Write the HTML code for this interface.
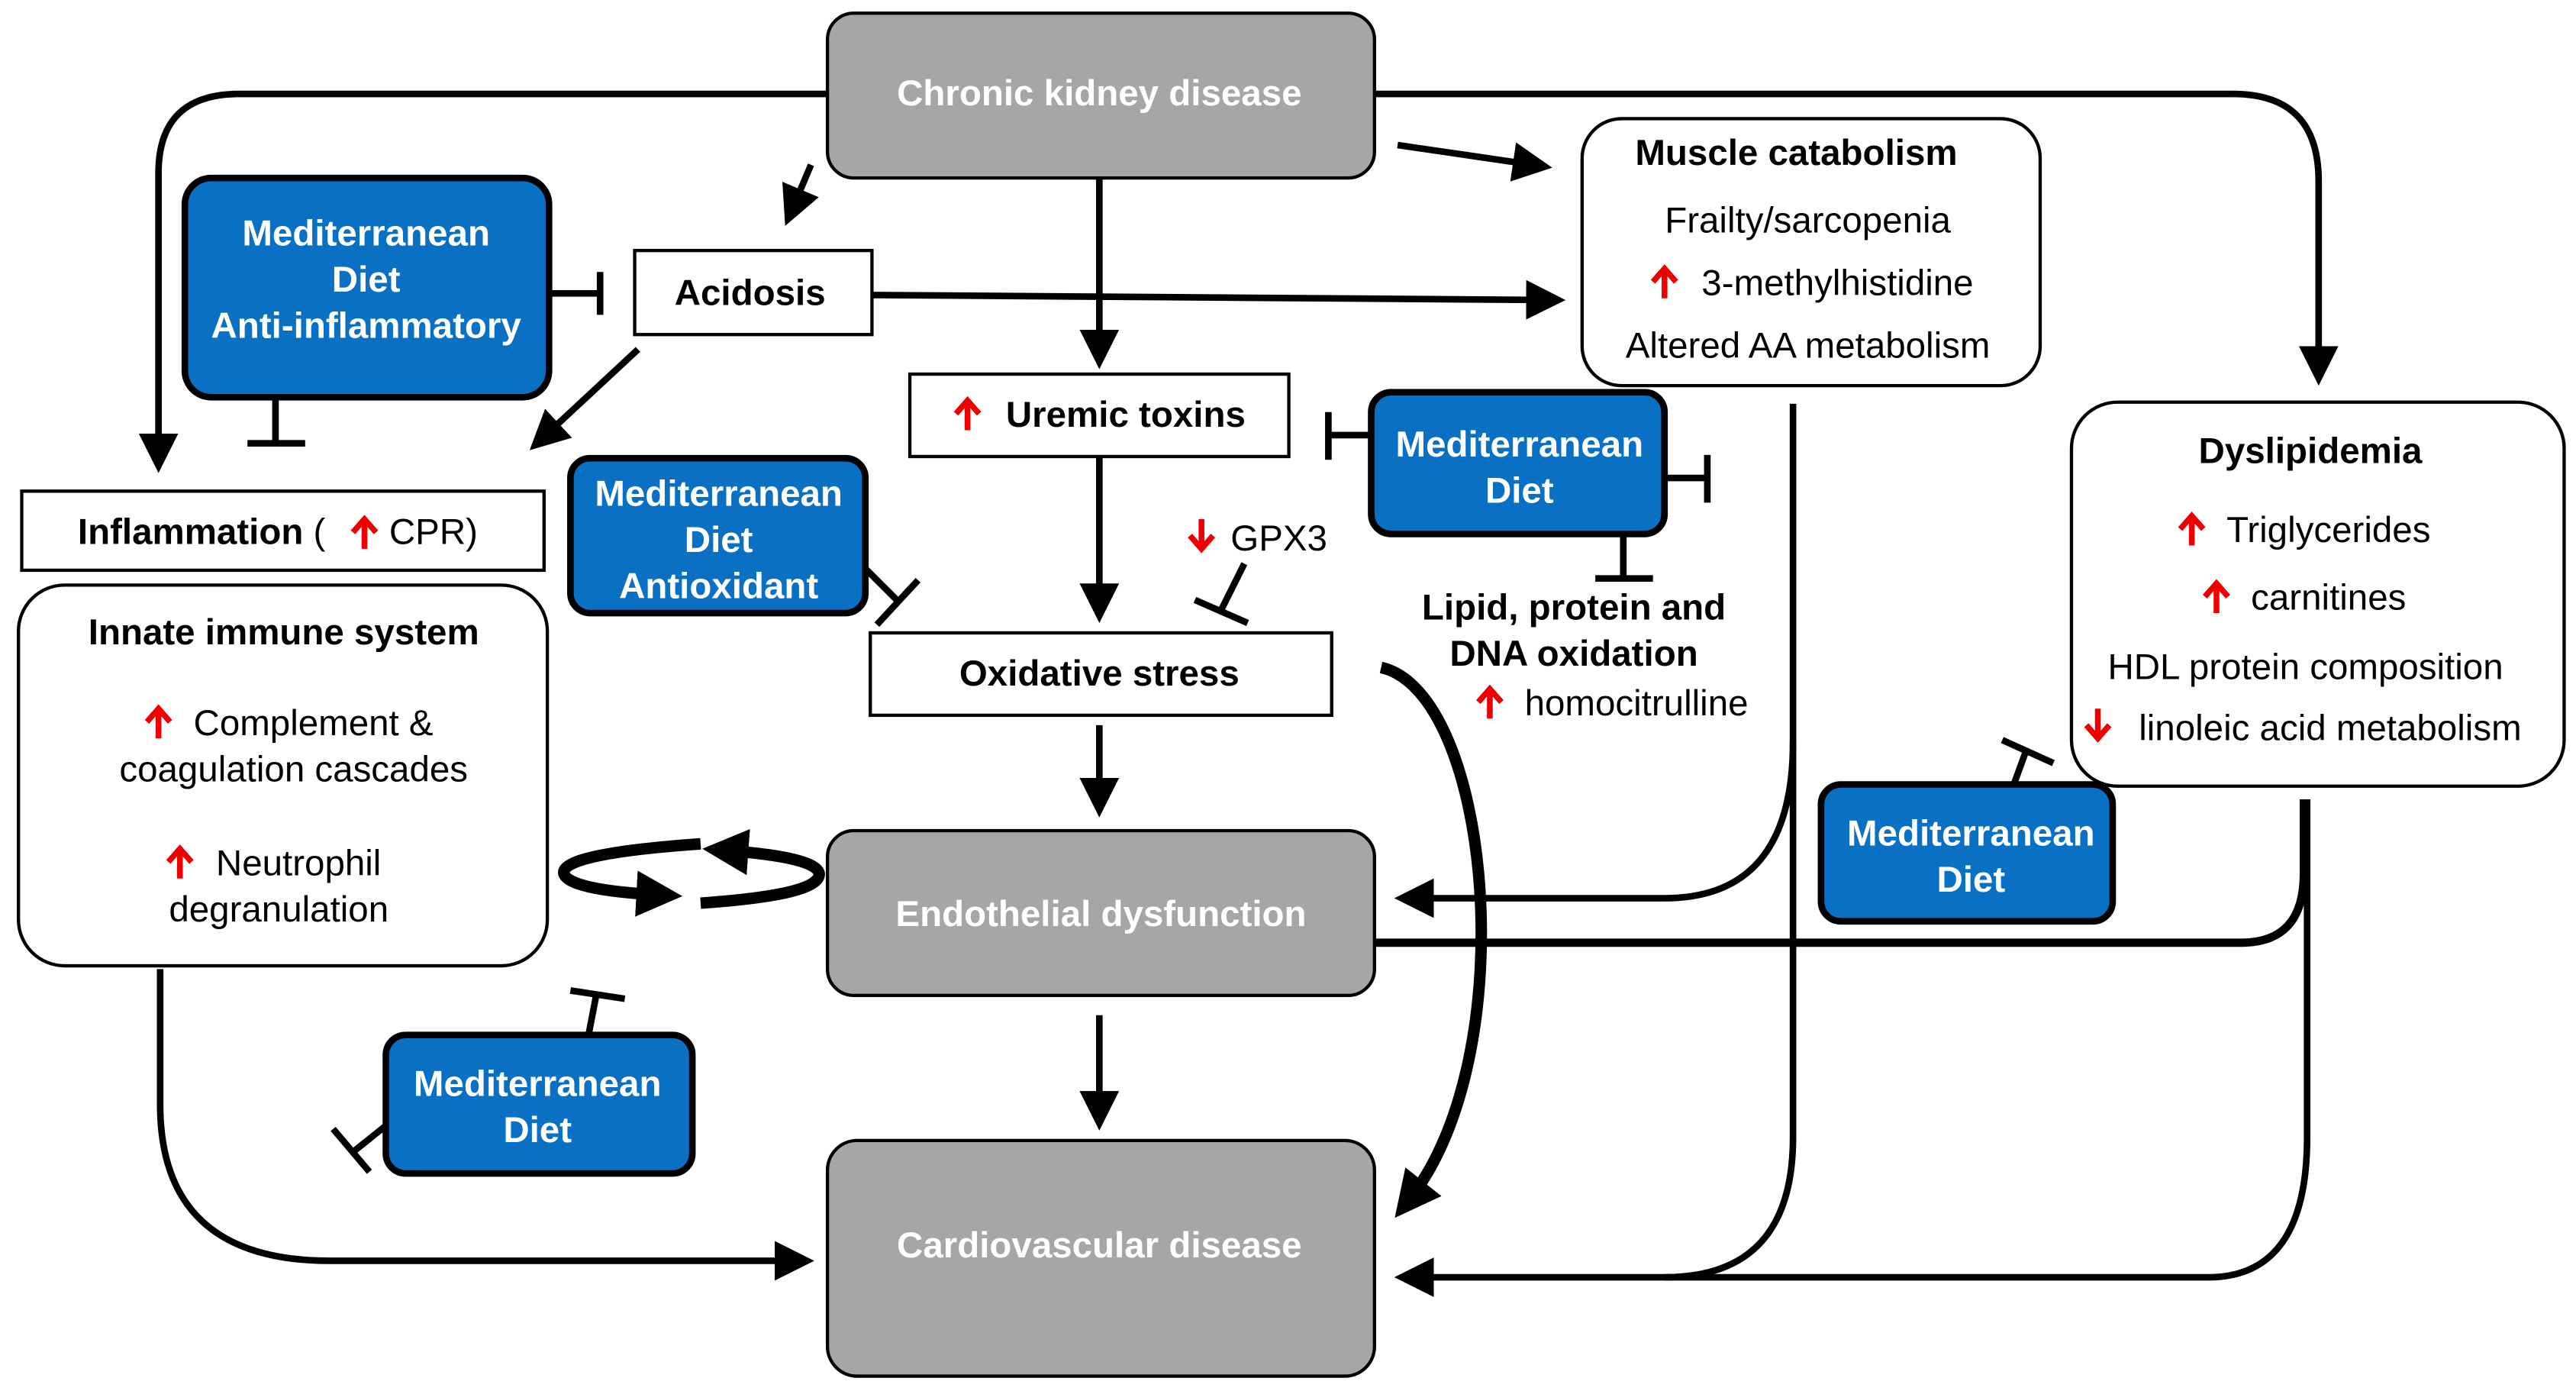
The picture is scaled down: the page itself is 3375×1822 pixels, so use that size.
<!DOCTYPE html>
<html><head><meta charset="utf-8"><style>
html,body{margin:0;padding:0;background:#fff;}
svg{display:block;}
text{font-family:"Liberation Sans",Arial,sans-serif;}
.b{font-weight:bold;}
</style></head><body>
<svg width="3375" height="1822" viewBox="0 0 1563 844" xmlns="http://www.w3.org/2000/svg">
<defs>
<marker id="a" markerWidth="6" markerHeight="6" refX="3" refY="3" orient="auto" markerUnits="strokeWidth" viewBox="0 0 6 6"><path d="M0,0 L6,3 L0,6 z" fill="#000"/></marker>
<marker id="a2" markerWidth="4" markerHeight="4" refX="2" refY="2" orient="auto" markerUnits="strokeWidth" viewBox="0 0 4 4"><path d="M0,0 L4,2 L0,4 z" fill="#000"/></marker>
</defs>
<g fill="none" stroke="#000" stroke-width="4">
<path d="M502,57 H145 Q96,57 96,105 V275" marker-end="url(#a)"/>
<path d="M834,57 H1355 Q1407,57 1407,110 V222" marker-end="url(#a)"/>
<path d="M848,88 L930,100" marker-end="url(#a)"/>
<path d="M492,100 L481,126" marker-end="url(#a)"/>
<path d="M667,108 V212" marker-end="url(#a)"/>
<path d="M529,179 L938,182" marker-end="url(#a)"/>
<path d="M387,212 L330,265" marker-end="url(#a)"/>
<path d="M667,277 V366" marker-end="url(#a)"/>
<path d="M667,440 V484" marker-end="url(#a)"/>
<path d="M667,616 V674" marker-end="url(#a)"/>
<path d="M1088,245 V690 Q1088,775 1010,775"/>
<path d="M1088,450 Q1088,545 1010,545 H858" marker-end="url(#a)"/>
<path d="M834,572 H1360 Q1398,572 1398,530 V485" stroke-width="5"/>
<path d="M1400,485 V690 Q1400,775 1340,775 H858" marker-end="url(#a)"/>
<path d="M97,588 V670 Q97,765 200,765 H482" marker-end="url(#a)"/>
<path d="M838,405 C905,420 925,640 855,728" stroke-width="7" marker-end="url(#a2)"/>
<path d="M425,512 Q340,518 342,530 Q345,540 400,543" stroke-width="7" marker-end="url(#a2)"/>
<path d="M425,548 Q498,543 497,530 Q495,520 440,516" stroke-width="7" marker-end="url(#a2)"/>
<path d="M333,178 H363 M364,165 V191"/>
<path d="M167,241 V268 M150,269 H185"/>
<path d="M832,264 H807 M806,250 V279"/>
<path d="M1010,290 H1035 M1036,276 V305"/>
<path d="M985,324 V350 M968,351 H1003"/>
<path d="M525,345 L545,365 M532,379 L557,352"/>
<path d="M755,342 L741,370 M725,364 L757,378"/>
<path d="M357,628 L362,602 M346,601 L379,606"/>
<path d="M234,683 L214,699 M202,685 L224,711"/>
<path d="M1222,476 L1230,454 M1215,449 L1246,463"/>
</g>
<g stroke="#000">
<rect x="502" y="8" width="332" height="100" rx="16" fill="#a6a6a6" stroke-width="2"/>
<rect x="502" y="504" width="332" height="100" rx="16" fill="#a6a6a6" stroke-width="2"/>
<rect x="502" y="692" width="332" height="143" rx="18" fill="#a6a6a6" stroke-width="2"/>
<rect x="960" y="72" width="278" height="162" rx="24" fill="#fff" stroke-width="2"/>
<rect x="1257" y="244" width="299" height="233" rx="28" fill="#fff" stroke-width="2"/>
<rect x="11" y="355" width="321" height="231" rx="28" fill="#fff" stroke-width="2"/>
<rect x="385" y="152" width="144" height="51" fill="#fff" stroke-width="2"/>
<rect x="552" y="227" width="230" height="50" fill="#fff" stroke-width="2"/>
<rect x="13" y="298" width="317" height="48" fill="#fff" stroke-width="2"/>
<rect x="528" y="384" width="280" height="50" fill="#fff" stroke-width="2"/>
<g fill="#0a70c4" stroke-width="4">
<rect x="112" y="108" width="221" height="133" rx="16"/>
<rect x="832" y="238" width="178" height="86" rx="12"/>
<rect x="346" y="278" width="179" height="94" rx="12"/>
<rect x="1105" y="476" width="177" height="83" rx="12"/>
<rect x="234" y="628" width="186" height="84" rx="12"/>
</g>
</g>
<g font-size="22" text-anchor="middle">
<g fill="#fff" class="b">
<text x="667" y="64" class="b">Chronic kidney disease</text>
<text x="668" y="562" class="b">Endothelial dysfunction</text>
<text x="667" y="763" class="b">Cardiovascular disease</text>
<text x="222" y="149" class="b">Mediterranean</text>
<text x="222" y="177" class="b">Diet</text>
<text x="222" y="205" class="b">Anti-inflammatory</text>
<text x="922" y="277" class="b">Mediterranean</text>
<text x="922" y="305" class="b">Diet</text>
<text x="436" y="307" class="b">Mediterranean</text>
<text x="436" y="335" class="b">Diet</text>
<text x="436" y="363" class="b">Antioxidant</text>
<text x="1196" y="513" class="b">Mediterranean</text>
<text x="1196" y="541" class="b">Diet</text>
<text x="326" y="665" class="b">Mediterranean</text>
<text x="326" y="693" class="b">Diet</text>
</g>
<text x="1090" y="100" class="b">Muscle catabolism</text>
<text x="1097" y="141">Frailty/sarcopenia</text>
<text x="1115" y="179">3-methylhistidine</text>
<text x="1097" y="217">Altered AA metabolism</text>
<text x="455" y="185" class="b">Acidosis</text>
<text x="683" y="259" class="b">Uremic toxins</text>
<text x="1402" y="281" class="b">Dyslipidemia</text>
<text x="1413" y="329">Triglycerides</text>
<text x="1413" y="370">carnitines</text>
<text x="1399" y="412">HDL protein composition</text>
<text x="1414" y="449">linoleic acid metabolism</text>
<text x="47" y="330" text-anchor="start"><tspan class="b">Inflammation</tspan> (</text>
<text x="236" y="330" text-anchor="start">CPR)</text>
<text x="172" y="391" class="b">Innate immune system</text>
<text x="190" y="446">Complement &amp;</text>
<text x="178" y="474">coagulation cascades</text>
<text x="181" y="531">Neutrophil</text>
<text x="169" y="559">degranulation</text>
<text x="667" y="416" class="b">Oxidative stress</text>
<text x="776" y="334">GPX3</text>
<text x="955" y="376" class="b">Lipid, protein and</text>
<text x="955" y="404" class="b">DNA oxidation</text>
<text x="993" y="434">homocitrulline</text>
</g>
<g fill="none" stroke="#e00" stroke-width="3.5">
<path d="M1010,181 V164 M1003,171 L1010,163 L1017,171"/>
<path d="M587,261 V244 M580,251 L587,243 L594,251"/>
<path d="M1330,331 V314 M1323,321 L1330,313 L1337,321"/>
<path d="M1345,372 V355 M1338,362 L1345,354 L1352,362"/>
<path d="M1273,430 V447 M1266,440 L1273,448 L1280,440"/>
<path d="M221,333 V316 M214,323 L221,315 L228,323"/>
<path d="M96,448 V431 M89,438 L96,430 L103,438"/>
<path d="M109,533 V516 M102,523 L109,515 L116,523"/>
<path d="M729,315 V332 M722,325 L729,333 L736,325"/>
<path d="M904,436 V419 M897,426 L904,418 L911,426"/>
</g>
</svg>
</body></html>
